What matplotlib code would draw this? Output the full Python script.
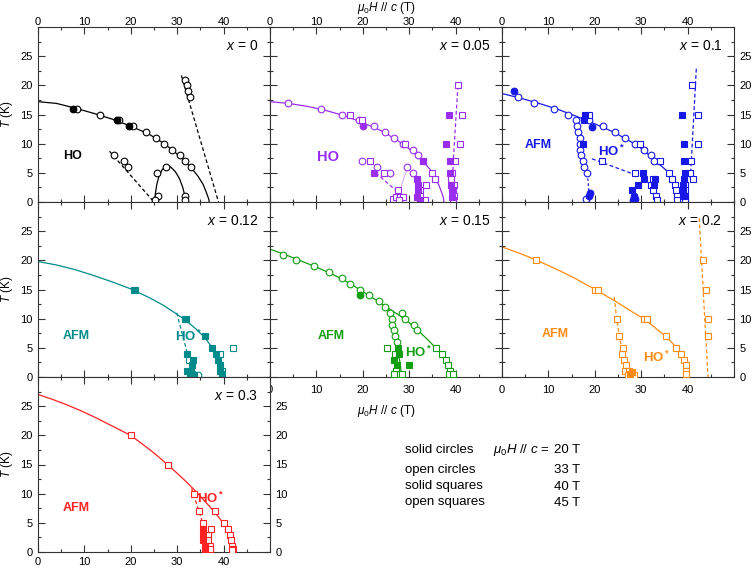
import matplotlib
matplotlib.use('Agg')
import matplotlib.pyplot as plt
from matplotlib.ticker import MultipleLocator

plt.rcParams['font.family'] = ['Liberation Sans', 'DejaVu Sans']
plt.rcParams['mathtext.fontset'] = 'custom'
plt.rcParams['mathtext.rm'] = 'Liberation Sans'
plt.rcParams['mathtext.it'] = 'Liberation Sans:italic'
plt.rcParams['mathtext.bf'] = 'Liberation Sans:bold'

# ---- x = 0 (black) ----
p0_fit = [(0, 17.2), (4, 16.9), (8, 16.1), (12, 15.2), (16, 14.2), (20, 13.0), (24, 11.6),
          (27, 10.1), (29, 8.9), (31, 7.5), (33, 5.9), (34.5, 4.4), (35.6, 3.0), (36.3, 1.6),
          (36.8, 0.5), (36.9, 0)]
p0_dome = [(25.2, 0), (25.3, 1.5), (25.6, 3), (26.1, 4.5), (26.8, 5.6), (27.7, 6.1), (28.6, 6.0),
           (29.6, 5.2), (30.5, 4.0), (31.2, 2.5), (31.6, 1.2), (31.8, 0)]
p0_dash1 = [(15.4, 8.7), (25.0, 0)]
p0_dash2 = [(30.9, 21.7), (38.9, 0)]
p0_oc = [(8.5, 16), (13.3, 15), (17.5, 14), (20.5, 13), (23.2, 12), (25.4, 11), (27.2, 10),
         (28.9, 9), (30.5, 8), (31.7, 7), (32.9, 6), (16.4, 8), (18.6, 7), (19.5, 6), (25.6, 5),
         (27.6, 6), (25.8, 1), (25.3, 0.4), (31.6, 1), (31.6, 0.4), (31.7, 21), (32.2, 20),
         (32.4, 19), (32.7, 18)]
p0_sc = [(7.5, 16), (17.0, 14), (19.7, 13)]

# ---- x = 0.05 (violet) ----
p1_fit = [(0, 17.2), (4, 16.9), (8, 16.4), (12, 15.7), (16, 14.8), (20, 13.6), (24, 12.2),
          (27, 10.8), (29, 9.7), (31, 8.5), (33, 6.9), (34.5, 5.6), (35.6, 4.2), (36.5, 2.7),
          (37.1, 1.4), (37.4, 0.6), (37.5, 0)]
p1_dash1 = [(22.8, 5.0), (27.4, 1.8)]
p1_thin = [(27.5, 0), (28.2, 2.5), (29.0, 4.5), (29.7, 6.0)]
p1_dash2 = [(39.2, 0), (39.5, 7), (40.5, 20)]
p1_oc = [(3.8, 17), (11, 16), (15.6, 15), (19.2, 14), (22.5, 13), (24.8, 12), (26.8, 11),
         (28.7, 10), (30.9, 9), (31.9, 8), (19.8, 7), (23, 6), (25.8, 5), (29.6, 6), (30.9, 5)]
p1_sc = [(20, 13)]
p1_os = [(17.2, 15), (19.8, 14), (29.0, 10), (32.9, 7), (34.9, 5), (35.6, 4), (21.5, 7),
         (24.6, 5), (27.5, 2), (26.5, 0.5), (27.2, 0.9), (28.0, 0.8), (28.7, 0.8), (27.8, 0.3),
         (33.6, 3), (32.4, 2), (32.4, 1), (33.5, 0.4), (40.6, 20), (41.4, 15), (40.9, 10),
         (39.9, 7), (39.2, 5), (39.0, 4), (39.6, 3), (39.4, 2), (39.6, 1), (39.5, 0.4)]
p1_ss = [(22.4, 5), (33.0, 7), (31.7, 4), (31.9, 3), (32.0, 2), (31.6, 0.9), (32.3, 0.4),
         (38.6, 15), (38.0, 10), (38.8, 7), (38.7, 5), (39.1, 3), (39.3, 2), (39.3, 0.8)]

# ---- x = 0.1 (blue) ----
p2_fit = [(0, 18.6), (4, 17.8), (8, 16.9), (12, 15.9), (16, 14.7), (20, 13.4), (24, 12.0),
          (27, 10.7), (29.5, 9.5), (31.5, 8.2), (33, 7.0), (34.6, 6.0), (36.0, 5.0), (36.6, 3.9),
          (37.2, 3.0), (37.5, 1.9), (37.75, 0.9), (37.8, 0)]
p2_dash1 = [(18.4, 4.9), (18.9, 0.3)]
p2_dash2 = [(19.4, 7.4), (28.3, 4.8)]
p2_dash3 = [(40.6, 4), (41.9, 23.2)]
p2_oc = [(3.4, 18), (7, 17), (11.2, 16), (14.3, 15), (18.7, 14), (21.8, 13), (24.4, 12),
         (26.6, 11), (28.7, 10), (30.7, 9), (32.1, 8), (32.7, 7), (15.9, 14), (16.2, 13),
         (16.4, 12), (16.8, 11), (16.9, 10), (16.9, 9), (17.1, 8), (17.4, 7), (17.7, 6),
         (18.3, 5), (18.2, 0.5)]
p2_sc = [(2.5, 19), (19.5, 12.8), (18.9, 1.5), (18.7, 1.0), (28.4, 1.0), (28.6, 0.5), (28.3, 0.3)]
p2_os = [(18.7, 15), (29.8, 10), (34.1, 7), (36, 5), (36.6, 4), (37.2, 3), (37.5, 2), (37.7, 1),
         (37.7, 0.4), (21.5, 7), (28.6, 5), (32.6, 4), (32.1, 3), (32.6, 2), (33.1, 1),
         (33.3, 0.4), (39.4, 3), (39.4, 2), (39.4, 1), (39.4, 0.4), (40.9, 20), (42.2, 15),
         (42.2, 10), (40.8, 7), (40.6, 5), (41.1, 4)]
p2_ss = [(17.9, 15), (17.7, 14), (17.4, 10), (30.3, 5), (30.5, 4), (29.3, 3), (28.0, 2),
         (32.9, 4), (32.8, 3), (38.7, 15), (39.2, 10), (39.3, 7), (39.5, 5), (39.2, 4),
         (39.0, 3), (39.1, 2), (39.2, 1)]

# ---- x = 0.12 (teal) ----
p3_fit = [(0, 19.8), (4, 19.2), (8, 18.4), (12, 17.4), (16, 16.3), (20, 15.1), (24, 13.6),
          (27, 12.3), (29.5, 11.0), (31.7, 9.8), (33.8, 8.4), (35.9, 6.8), (37.2, 5.4),
          (38.2, 4.3), (38.9, 3.2), (39.4, 2.1), (39.7, 1.0), (39.8, 0)]
p3_dash = [(29.9, 11), (32.2, 4)]
p3_ss = [(20.6, 15), (31.7, 10), (35.9, 7), (37.5, 5), (38.4, 4), (38.9, 3), (39.3, 2),
         (39.3, 1), (39.6, 0.5), (32.2, 4), (33.3, 3), (33.2, 2), (32.1, 1), (33.0, 1),
         (32.7, 0.5), (33.6, 0.4)]
p3_os = [(20.9, 15), (32.0, 10), (39.2, 4), (32.6, 3), (39.6, 1), (42.1, 5)]
p3_oc = [(34.4, 0.3), (33.3, 0.6)]

# ---- x = 0.15 (green) ----
p4_fit = [(0, 21.9), (2.9, 21.1), (5.7, 20.2), (9.5, 19), (12.7, 17.9), (15.5, 16.8),
          (17.3, 16), (19.3, 15), (21.3, 14), (23.4, 12.9), (25.5, 11.8), (28, 10.5), (30, 9.3),
          (32, 7.9), (34, 6.4), (35.7, 5), (37, 3.9), (37.9, 2.9), (38.6, 1.9), (39.2, 0.9),
          (39.7, 0)]
p4_inner = [(25.1, 12.3), (26.1, 10), (26.7, 8), (27.2, 6), (27.7, 4), (28.1, 2), (28.4, 0)]
p4_oc = [(2.9, 21), (5.7, 20), (9.5, 19), (12.7, 18), (15.5, 17), (17.3, 16), (19.3, 15),
         (21.3, 14), (23.4, 13), (24.8, 12), (28.5, 11), (29, 10), (31, 9), (31.7, 8),
         (25.8, 11), (26.3, 10), (26.4, 9), (26.7, 8), (27, 7), (27.3, 6)]
p4_sc = [(19.5, 14)]
p4_os = [(35.7, 5), (37, 4), (37.9, 3), (38.4, 2), (38.9, 1), (38.5, 0.5), (39.4, 0.5),
         (25.3, 5), (27.0, 4), (27.2, 1), (26.8, 0.5), (28.1, 0.5), (28.5, 0.6)]
p4_ss = [(27.5, 5), (27.8, 4), (26.8, 3), (27.4, 2), (30, 2)]

# ---- x = 0.2 (orange) ----
p5_fit = [(0, 22.3), (3.5, 21.3), (7.3, 20.1), (10, 19.1), (13, 18.0), (16, 16.8), (18, 15.9),
          (20.1, 15), (22, 14.1), (24, 13.2), (26, 12.2), (28, 11.2), (30.5, 10), (32, 9.1),
          (33.5, 8.1), (35.3, 7), (36.5, 6), (37.6, 5), (38.5, 4), (39.1, 3), (39.5, 2),
          (39.7, 1), (39.8, 0)]
p5_dash1 = [(24.2, 13.7), (24.7, 10), (25.3, 7), (25.9, 4.5), (26.5, 2), (27, 0)]
p5_dash2 = [(42.5, 27.2), (44.4, 0)]
p5_os = [(7.3, 20), (20.1, 15), (20.6, 15), (30.5, 10), (31.3, 10), (35.3, 7), (37.6, 5),
         (38.5, 4), (39.3, 3), (39.6, 2), (39.6, 1), (39.7, 0.5), (24.7, 10), (25.3, 7),
         (26.1, 5), (25.9, 4), (26.3, 3), (26.8, 2), (26.6, 1), (27.4, 1), (27.8, 0.5),
         (28.5, 0.3), (27.2, 0.4), (43.3, 20), (44, 15), (44.5, 10), (44.5, 7)]
p5_ss = [(27.5, 0.5), (28.0, 0.8)]

# ---- x = 0.3 (red) ----
p6_fit = [(0, 27), (3, 26.2), (6, 25.3), (9, 24.3), (12, 23.2), (15, 22.0), (18, 20.8),
          (20.1, 19.9), (22, 18.8), (24, 17.6), (26, 16.3), (28, 14.9), (30, 13.5), (32, 12.0),
          (34, 10.4), (35.5, 9.1), (37, 7.8), (38.2, 6.7), (39.2, 5.7), (40.1, 4.7),
          (40.8, 3.8), (41.3, 2.9), (41.6, 2.0), (41.8, 1.0), (41.9, 0)]
p6_dash = [(33.1, 10.9), (34.7, 7), (35.5, 5), (35.7, 3), (35.8, 0)]
p6_os = [(20.1, 20), (28, 15), (33.7, 10), (38.2, 7), (40.1, 5), (40.9, 4), (41.4, 3),
         (41.7, 2), (41.9, 1), (42, 0.5), (34.7, 7), (35.5, 5), (36.7, 3), (37.3, 4),
         (36.6, 2), (37, 1), (36.2, 0.5), (37.1, 0.5), (41.8, 0.4)]
p6_ss = [(35.6, 4), (35.6, 3), (35.5, 2), (35.9, 1), (36.0, 0.4)]

concentrations = ['0', '0.05', '0.1', '0.12', '0.15', '0.2', '0.3']
colors = ['black', '#9a2ef0', '#1717e8', '#008b8b', '#119f11', '#ff8c10', '#ff2222']
legend_names = ['solid circles', 'open circles', 'solid squares', 'open squares']
legend_fields = ['20 T', '33 T', '40 T', '45 T']

W, H = 754, 568
fig = plt.figure(figsize=(W / 100, H / 100), dpi=100)

L0, T0, PW, PH = 38, 27, 232, 175


def make_ax(r, c):
    return fig.add_axes([(L0 + PW * c) / W, 1 - (T0 + PH * (r + 1)) / H, PW / W, PH / H])


def line(ax, p, col, ls='-', lw=0.9):
    ax.plot([a for a, b in p], [b for a, b in p], color=col, ls=ls, lw=lw, zorder=2)


def pts(ax, p, col, marker, filled):
    if not p:
        return
    ms = 4.8 if marker == 'o' else 4.5
    ax.plot([a for a, b in p], [b for a, b in p], ls='none', marker=marker, ms=ms, mew=0.8,
            mec=col, mfc=col if filled else 'white', zorder=3)


dash = (0, (3, 2))
panels = [
    (0, 0, [(p0_fit, '-'), (p0_dome, '-'), (p0_dash1, dash), (p0_dash2, dash)],
     p0_oc, p0_sc, [], []),
    (0, 1, [(p1_fit, '-'), (p1_dash1, dash), (p1_dash2, dash)], p1_oc, p1_sc, p1_os, p1_ss),
    (0, 2, [(p2_fit, '-'), (p2_dash1, (0, (2, 2))), (p2_dash2, dash), (p2_dash3, dash)],
     p2_oc, p2_sc, p2_os, p2_ss),
    (1, 0, [(p3_fit, '-'), (p3_dash, dash)], p3_oc, [], p3_os, p3_ss),
    (1, 1, [(p4_fit, '-'), (p4_inner, '-')], p4_oc, p4_sc, p4_os, p4_ss),
    (1, 2, [(p5_fit, '-'), (p5_dash1, dash), (p5_dash2, dash)], [], [], p5_os, p5_ss),
    (2, 0, [(p6_fit, '-'), (p6_dash, dash)], [], [], p6_os, p6_ss),
]

# phase labels: (text, H, T, size)
phase_labels = [
    [('HO', 7.45, 7.9, 9)],
    [('HO', 12.6, 7.8, 10.5)],
    [('AFM', 7.85, 9.7, 9), (r'$\mathbf{HO^*}$', 23.7, 8.6, 9.5)],
    [('AFM', 8.3, 7.0, 9), (r'$\mathbf{HO^*}$', 32.4, 6.9, 9.5)],
    [('AFM', 13.2, 7.0, 9), (r'$\mathbf{HO^*}$', 32.0, 4.2, 9.5)],
    [('AFM', 11.5, 7.3, 9), (r'$\mathbf{HO^*}$', 33.3, 3.4, 9.5)],
    [('AFM', 8.3, 7.6, 9), (r'$\mathbf{HO^*}$', 37.1, 9.2, 9.5)],
]

spine_col = '#333333'
for i, (r, c, lines, oc, sc, os_, ss) in enumerate(panels):
    ax = make_ax(r, c)
    col = colors[i]
    for p, ls in lines:
        line(ax, p, col, ls)
    if i == 1:
        line(ax, p1_thin, '#c99af5', '-', 0.6)
    pts(ax, oc, col, 'o', False)
    pts(ax, sc, col, 'o', True)
    pts(ax, os_, col, 's', False)
    pts(ax, ss, col, 's', True)
    for txt, hx, ty, fs in phase_labels[i]:
        ax.text(hx, ty, txt, color=col, fontsize=fs, fontweight='bold', ha='center', va='center')
    ax.text(0.95, 0.89, r'$x$ = ' + concentrations[i], transform=ax.transAxes,
            ha='right', va='center', fontsize=10)

    ax.set_xlim(0, 50)
    ax.set_ylim(0, 30)
    ax.set_xticks([0, 10, 20, 30, 40])
    ax.set_yticks([0, 5, 10, 15, 20, 25])
    ax.xaxis.set_minor_locator(MultipleLocator(5))
    ax.yaxis.set_minor_locator(MultipleLocator(2.5))
    ax.tick_params(which='both', direction='in', top=True, right=True, bottom=True, left=True,
                   color=spine_col, width=0.8, labelsize=8, pad=4,
                   labelleft=(c == 0), labelright=(c == 2 or r == 2))
    ax.tick_params(axis='x', which='both', labeltop=(r == 0),
                   labelbottom=(r == 2 or (r == 1 and c > 0)))
    if r == 0:
        ax.xaxis.set_tick_params(which='major', pad=0)
    elif r == 1:
        ax.xaxis.set_tick_params(which='major', pad=6)
    else:
        ax.xaxis.set_tick_params(which='major', pad=3.5)
    ax.tick_params(which='major', length=5)
    ax.tick_params(which='minor', length=2.5)
    for s in ax.spines.values():
        s.set_color(spine_col)
        s.set_linewidth(0.8)
    if c == 0:
        ax.set_ylabel(r'$T$ (K)', fontsize=8.5, labelpad=4)

xlab = r'$\mu_0H\ //\ c$ (T)'
fig.text(386 / W, 1 - 8 / H, xlab, ha='center', va='center', fontsize=8.5)
fig.text(386 / W, 1 - 411 / H, xlab, ha='center', va='center', fontsize=8.5)

leg_y = [450, 470, 486.5, 502.5]
for name, val, y in zip(legend_names, legend_fields, leg_y):
    fig.text(405 / W, 1 - y / H, name, ha='left', va='center', fontsize=9.5)
    fig.text(580 / W, 1 - y / H, val, ha='right', va='center', fontsize=9.5)
fig.text(493 / W, 1 - 450 / H, r'$\mu_0H\ //\ c$ =', ha='left', va='center', fontsize=9.5)

fig.savefig('out.png', dpi=100)
